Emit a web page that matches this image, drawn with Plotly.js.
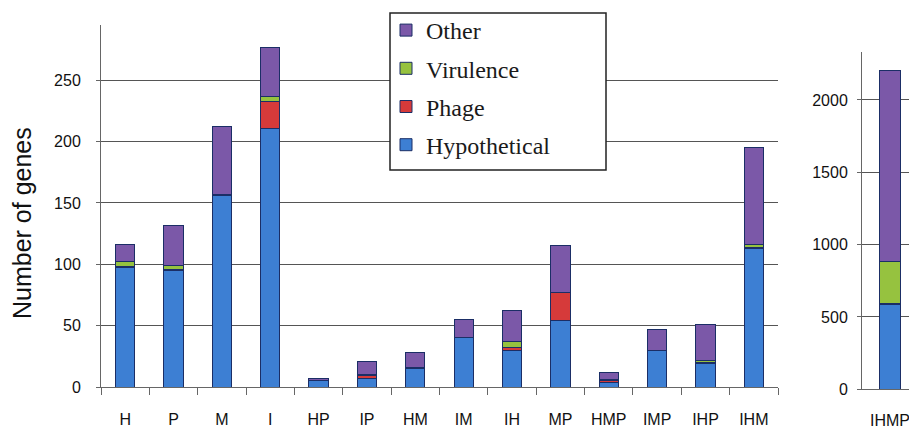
<!DOCTYPE html>
<html>
<head>
<meta charset="utf-8">
<script src="https://cdn.plot.ly/plotly-3.0.1.min.js"></script>
<style>html,body{margin:0;padding:0;background:#fff;}#chart{width:909px;height:428px;}</style>
</head>
<body>
<div id="chart"></div>
<script>
const categories = ['H','P','M','I','HP','IP','HM','IM','IH','MP','HMP','IMP','IHP','IHM'];
const hypothetical = [97,95,156,211,5,7,15,40,30,54,4,30,19,113];
const phage = [1,1,0,22,0,2,0,0,2,23,1,0,1,1];
const virulence = [4,3,1,4,0,1,1,0,5,0,1,0,2,2];
const other = [14,33,55,40,2,11,12,15,25,38,6,17,29,79];

const categories2 = ['IHMP'];
const hypothetical2 = [585];
const phage2 = [10];
const virulence2 = [290];
const other2 = [1315];

const seriesNames = ['Hypothetical','Phage','Virulence','Other'];
const colors = ['#3d7fd3','#d63a3a','#96c23f','#7b58a8'];
const outline = '#1b2e66';

const leftData = [hypothetical, phage, virulence, other];
const rightData = [hypothetical2, phage2, virulence2, other2];

const traces = [];
leftData.forEach((vals, i) => {
  traces.push({
    type: 'bar', x: categories, y: vals, name: seriesNames[i],
    legendgroup: seriesNames[i], legendrank: 10 - i,
    marker: {color: colors[i], line: {color: outline, width: 1}},
    width: 0.4, xaxis: 'x', yaxis: 'y', hoverinfo: 'x+y+name'
  });
});
rightData.forEach((vals, i) => {
  traces.push({
    type: 'bar', x: categories2, y: vals, name: seriesNames[i],
    legendgroup: seriesNames[i], showlegend: false,
    marker: {color: colors[i], line: {color: outline, width: 1}},
    width: 0.39, xaxis: 'x2', yaxis: 'y2', hoverinfo: 'x+y+name'
  });
});

const W = 909, H = 428;
const tickFont = {family: 'Liberation Sans, Arial, sans-serif', size: 16, color: '#111'};
const layout = {
  width: W, height: H,
  margin: {l: 0, r: 0, t: 0, b: 0},
  paper_bgcolor: '#fff', plot_bgcolor: 'rgba(0,0,0,0)',
  barmode: 'stack',
  showlegend: true,
  legend: {
    x: 386/W, y: 1 - 8/H, xanchor: 'left', yanchor: 'top',
    traceorder: 'grouped', tracegroupgap: 4,
    bgcolor: 'rgba(0,0,0,0)', borderwidth: 0,
    font: {family: 'Liberation Serif, Times New Roman, serif', size: 24, color: '#1a1a1a'}
  },
  shapes: [{
    type: 'rect', xref: 'paper', yref: 'paper', layer: 'above',
    x0: 390/W, x1: 606/W, y0: 1 - 170/H, y1: 1 - 13/H,
    fillcolor: '#fff', line: {color: '#222', width: 1.5}
  }],
  xaxis: {
    domain: [101/W, 778/W], range: [-0.5, 13.5], type: 'category',
    showline: true, linecolor: '#666', linewidth: 1,
    ticks: 'outside', tickson: 'boundaries', ticklen: 7, tickcolor: '#666',
    tickfont: tickFont, ticklabelstandoff: 18, showgrid: false, fixedrange: true
  },
  yaxis: {
    domain: [(H-387)/H, (H-25)/H], range: [0, 295],
    tickvals: [0,50,100,150,200,250],
    showline: true, linecolor: '#666', linewidth: 1,
    ticks: 'outside', ticklen: 4, tickcolor: '#666',
    showgrid: true, gridcolor: '#555', gridwidth: 1,
    tickfont: tickFont, ticklabelstandoff: 12, zeroline: false, fixedrange: true
  },
  xaxis2: {
    domain: [862/W, 1], range: [-0.5, 0.34], type: 'category',
    showline: true, linecolor: '#666', linewidth: 1,
    ticks: '', tickfont: tickFont, ticklabelstandoff: 16, showgrid: false,
    anchor: 'y2', fixedrange: true
  },
  yaxis2: {
    domain: [(H-389.3)/H, (H-52.3)/H], range: [0, 2329],
    tickvals: [0,500,1000,1500,2000],
    showline: true, linecolor: '#666', linewidth: 1,
    ticks: 'outside', ticklen: 4, tickcolor: '#666',
    showgrid: true, gridcolor: '#555', gridwidth: 1,
    tickfont: tickFont, ticklabelstandoff: 6, zeroline: false,
    anchor: 'x2', fixedrange: true
  },
  annotations: [{
    text: 'Number of genes', xref: 'paper', yref: 'paper',
    x: 22/W, y: (H-223)/H, xanchor: 'center', yanchor: 'middle',
    textangle: -90, showarrow: false,
    font: {family: 'Liberation Sans, Arial, sans-serif', size: 25, color: '#111'}
  }]
};

Plotly.newPlot('chart', traces, layout, {displayModeBar: false, staticPlot: true});
</script>
</body>
</html>
